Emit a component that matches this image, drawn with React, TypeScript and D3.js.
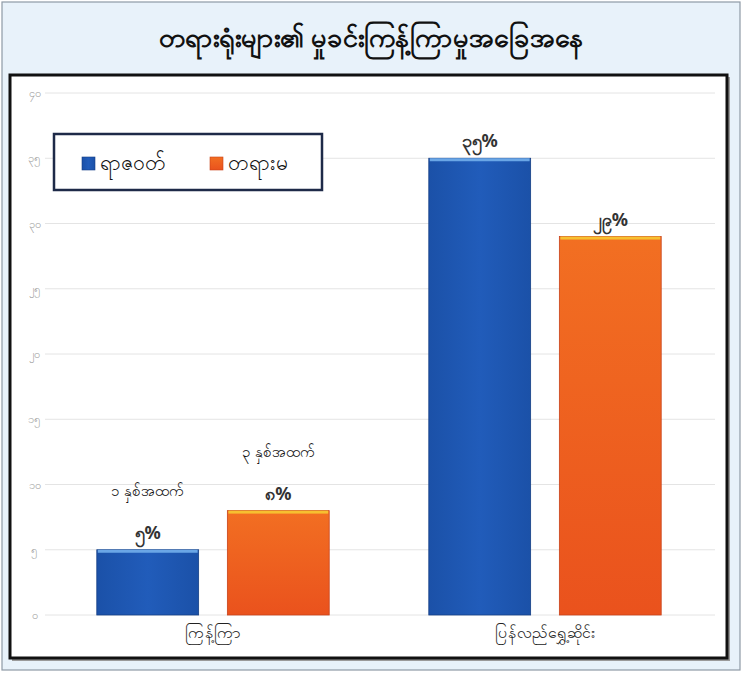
import React from "react";
import * as d3 from "d3";

// chart data
const categories = ["ကြန့်ကြာ", "ပြန်လည်ရွှေ့ဆိုင်း"];
const seriesNames = ["ရာဇဝတ်", "တရားမ"];
const criminal = [5, 35];
const civil = [8, 29];
const valueLabels = [
  ["၅%", "၃၅%"],
  ["၈%", "၂၉%"],
];
const yTicks = [0, 5, 10, 15, 20, 25, 30, 35, 40];
const yTickLabels = ["၀", "၅", "၁၀", "၁၅", "၂၀", "၂၅", "၃၀", "၃၅", "၄၀"];
const notes = ["၁ နှစ်အထက်", "၃ နှစ်အထက်"];
const title = "တရားရုံးများ၏ မှုခင်းကြန့်ကြာမှုအခြေအနေ";

const W = 743;
const H = 678;
const font = "'Noto Sans', 'DejaVu Sans', sans-serif";

const App: React.FC = () => {
  const x0 = d3
    .scaleBand<string>()
    .domain(categories)
    .range([47, 711])
    .paddingInner(0.3)
    .paddingOuter(0.15);
  const x1 = d3
    .scaleBand<string>()
    .domain(seriesNames)
    .range([0, x0.bandwidth()])
    .paddingInner(0.22);
  const y = d3.scaleLinear().domain([0, 40]).range([615, 93]);

  const series = [criminal, civil];
  const fills = ["url(#gBlue)", "url(#gOrange)"];
  const tops = ["#6aa6e6", "#f7c030"];
  const edges = ["#163f85", "#c8421a"];

  return (
    <svg
      width={W}
      height={H}
      style={{ position: "absolute", left: 0, top: 0, background: "#fff" }}
      fontFamily={font}
    >
      <defs>
        <linearGradient id="gBlue" x1="0" y1="0" x2="1" y2="0">
          <stop offset="0" stopColor="#1b51a8" />
          <stop offset="0.5" stopColor="#215cba" />
          <stop offset="1" stopColor="#1b51a8" />
        </linearGradient>
        <linearGradient id="gOrange" x1="0" y1="0" x2="0" y2="1">
          <stop offset="0" stopColor="#f26f22" />
          <stop offset="1" stopColor="#ea521d" />
        </linearGradient>
      </defs>

      {/* outer frame */}
      <rect x={2} y={2} width={738} height={668} fill="#e8f2fa" stroke="#8e9aa6" strokeWidth={1.2} />
      <text x={W / 2} y={47} textAnchor="middle" fontSize={27} fontWeight="bold" fill="#111">
        {title}
      </text>

      {/* inner panel */}
      <rect x={12} y={77} width={718} height={584} fill="#9a9a9a" />
      <rect x={10} y={75} width={717} height={583} fill="#fff" stroke="#111" strokeWidth={3} />

      {/* grid + y ticks */}
      {yTicks.map((t, i) => (
        <g key={t}>
          <line x1={45} x2={715} y1={y(t)} y2={y(t)} stroke="#e4e4e4" strokeWidth={1} />
          <text x={34} y={y(t) + 4} textAnchor="middle" fontSize={11} fill="#9a9a9a">
            {yTickLabels[i]}
          </text>
        </g>
      ))}

      {/* bars */}
      {categories.map((c, ci) => (
        <g key={c} transform={`translate(${x0(c)},0)`}>
          {seriesNames.map((s, si) => {
            const v = series[si][ci];
            const bx = x1(s)!;
            const bw = x1.bandwidth();
            const by = y(v);
            const bh = y(0) - by;
            return (
              <g key={s}>
                <rect x={bx} y={by} width={bw} height={bh} fill={fills[si]} stroke={edges[si]} strokeWidth={0.8} />
                <rect x={bx + 1} y={by} width={bw - 2} height={3} fill={tops[si]} />
                <text
                  x={bx + bw / 2}
                  y={by - 11}
                  textAnchor="middle"
                  fontSize={18}
                  fontWeight="bold"
                  fill="#333"
                >
                  {valueLabels[si][ci]}
                </text>
                {ci === 0 && (
                  <text
                    x={bx + bw / 2}
                    y={by - 54}
                    textAnchor="middle"
                    fontSize={15}
                    fill="#111"
                  >
                    {notes[si]}
                  </text>
                )}
              </g>
            );
          })}
          <text
            x={x0.bandwidth() / 2}
            y={638}
            textAnchor="middle"
            fontSize={16}
            fill="#222"
          >
            {c}
          </text>
        </g>
      ))}

      {/* legend */}
      <rect x={54} y={134} width={268} height={56} fill="#fff" stroke="#1e2a48" strokeWidth={2.5} />
      {seriesNames.map((s, i) => {
        const lx = i === 0 ? 82 : 210;
        return (
          <g key={s}>
            <rect x={lx} y={157} width={13} height={13} fill={fills[i]} stroke={edges[i]} strokeWidth={0.6} />
            <text x={lx + 18} y={170} fontSize={21} fill="#111">
              {s}
            </text>
          </g>
        );
      })}
    </svg>
  );
};

export default App;
